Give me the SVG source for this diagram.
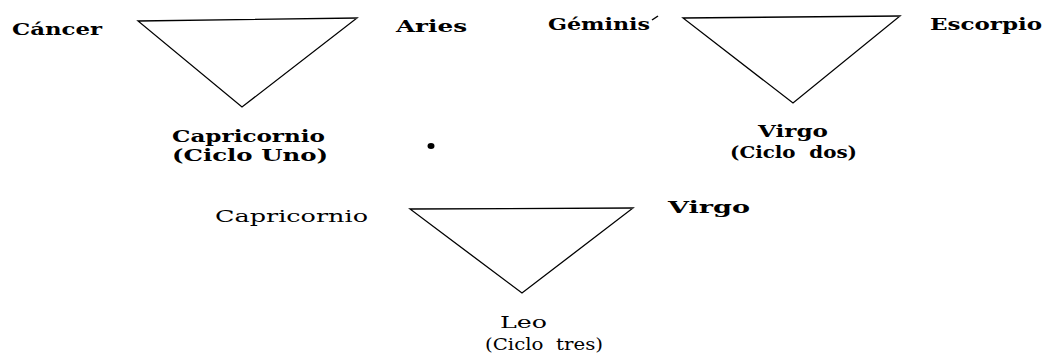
<svg xmlns="http://www.w3.org/2000/svg" width="1049" height="356" viewBox="0 0 1049 356">
<style>
.b{font-family:"DejaVu Serif","Liberation Serif",serif;font-weight:bold;font-size:16px;fill:#000;white-space:pre}
.r{font-family:"DejaVu Serif","Liberation Serif",serif;font-weight:normal;font-size:16px;fill:#000;white-space:pre}
.tri{fill:none;stroke:#000;stroke-width:1.3;stroke-linejoin:miter}
</style>
<rect width="1049" height="356" fill="#fff"/>
<g id="connectors">
<polygon id="tri1" class="tri" points="138,21 357,18 242,107"/>
<polygon id="tri2" class="tri" points="683,18 900,16 793,103"/>
<polygon id="tri3" class="tri" points="410,209 633,208 522,293"/>
</g>
<g id="cancer"><text class="b" x="12" y="35" textLength="90" lengthAdjust="spacingAndGlyphs">Cáncer</text></g>
<g id="aries"><text class="b" x="396" y="32" textLength="71" lengthAdjust="spacingAndGlyphs">Aries</text></g>
<g id="capricornio1">
<text class="b" x="172" y="142" textLength="153" lengthAdjust="spacingAndGlyphs">Capricornio</text>
<text class="b" x="172" y="161" textLength="156" lengthAdjust="spacingAndGlyphs">(Ciclo Uno)</text>
</g>
<g id="dot"><ellipse cx="431" cy="146" rx="3.5" ry="3" fill="#000"/></g>
<g id="geminis">
<text class="b" x="548" y="30" textLength="102" lengthAdjust="spacingAndGlyphs">Géminis</text>
<line x1="652" y1="20" x2="658" y2="16" stroke="#000" stroke-width="1.5"/>
</g>
<g id="escorpio"><text class="b" x="930" y="30" textLength="112" lengthAdjust="spacingAndGlyphs">Escorpio</text></g>
<g id="virgo1">
<text class="b" x="758" y="137" textLength="70" lengthAdjust="spacingAndGlyphs">Virgo</text>
<text class="b" x="730" y="158" textLength="127" lengthAdjust="spacingAndGlyphs">(Ciclo  dos)</text>
</g>
<g id="capricornio2"><text class="r" x="215" y="222" textLength="153" lengthAdjust="spacingAndGlyphs">Capricornio</text></g>
<g id="virgo2"><text class="b" x="668" y="213" textLength="82" lengthAdjust="spacingAndGlyphs">Virgo</text></g>
<g id="leo">
<text class="r" x="500" y="328" textLength="47" lengthAdjust="spacingAndGlyphs">Leo</text>
<text class="r" x="485" y="350" textLength="118" lengthAdjust="spacingAndGlyphs">(Ciclo  tres)</text>
</g>
</svg>
